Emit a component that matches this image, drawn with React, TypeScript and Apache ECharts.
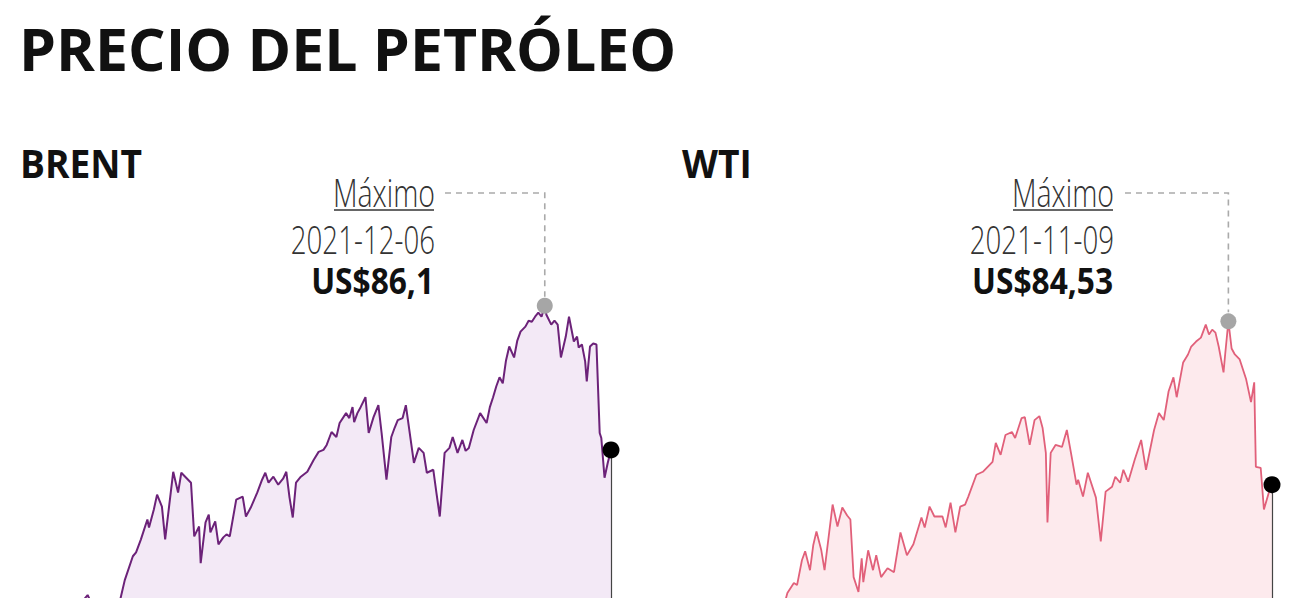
import React, { useEffect, useRef } from 'react';
import * as echarts from 'echarts';

// ---------- DATA ----------
const brentDates = [
  '2020-12-07','2020-12-11','2020-12-15','2020-12-18','2020-12-21','2020-12-28','2020-12-31',
  '2021-01-04','2021-01-06','2021-01-08','2021-01-13','2021-01-16','2021-01-18','2021-01-21','2021-01-24','2021-01-29',
  '2021-02-02','2021-02-05','2021-02-08','2021-02-13','2021-02-15','2021-02-18','2021-02-22','2021-02-23','2021-02-26','2021-02-28',
  '2021-03-03','2021-03-05','2021-03-10','2021-03-13','2021-03-15','2021-03-18','2021-03-21','2021-03-23','2021-03-26','2021-03-27','2021-03-30',
  '2021-04-01','2021-04-02','2021-04-05','2021-04-07','2021-04-10','2021-04-12','2021-04-14','2021-04-18','2021-04-22','2021-04-24','2021-04-27',
  '2021-05-01','2021-05-04','2021-05-06','2021-05-08','2021-05-11','2021-05-14','2021-05-17','2021-05-19','2021-05-21','2021-05-23','2021-05-25','2021-05-28',
  '2021-06-01','2021-06-05','2021-06-08','2021-06-11','2021-06-13','2021-06-16','2021-06-19','2021-06-21','2021-06-25','2021-06-27','2021-06-29','2021-06-30',
  '2021-07-02','2021-07-04','2021-07-07','2021-07-09','2021-07-12','2021-07-15','2021-07-17','2021-07-20','2021-07-23','2021-07-25','2021-07-27','2021-07-30',
  '2021-08-01','2021-08-04','2021-08-06','2021-08-09','2021-08-12','2021-08-14','2021-08-18','2021-08-20','2021-08-22','2021-08-25','2021-08-28','2021-08-30',
  '2021-09-02','2021-09-05','2021-09-07','2021-09-09','2021-09-12','2021-09-16','2021-09-20','2021-09-22','2021-09-24','2021-09-26','2021-09-28','2021-09-30',
  '2021-10-02','2021-10-04','2021-10-07','2021-10-09','2021-10-11','2021-10-14','2021-10-16','2021-10-18','2021-10-20','2021-10-22','2021-10-24','2021-10-26','2021-10-27','2021-10-30',
  '2021-11-01','2021-11-03','2021-11-05','2021-11-08','2021-11-10','2021-11-13','2021-11-15','2021-11-16','2021-11-18','2021-11-20','2021-11-21','2021-11-23','2021-11-25','2021-11-27','2021-11-29','2021-11-30',
  '2021-12-02','2021-12-04','2021-12-06'
];
const brentValues = [
  48.8, 50.0, 50.8, 52.3, 50.9, 51.0, 51.8,
  51.1, 54.3, 55.4, 56.4, 57.0, 56.3, 56.5, 56.2, 56.4,
  56.3, 56.4, 58.5, 60.9, 61.3, 62.6, 64.6, 63.8, 65.6, 67.1,
  65.9, 62.6, 69.4, 67.3, 69.3, 68.8, 68.3, 62.9, 63.9, 60.2, 64.3,
  65.1, 63.3, 64.4, 62.1, 62.8, 63.1, 62.9, 66.6, 66.9, 64.9, 65.8,
  67.3, 68.6, 69.3, 68.3, 68.9, 68.1, 68.7, 69.4, 66.8, 64.8, 68.3, 68.9,
  69.4, 70.6, 71.4, 71.6, 72.1, 73.4, 72.9, 74.3, 75.3, 74.8, 75.9, 74.4,
  75.3, 75.9, 76.9, 73.3, 74.9, 76.1, 73.3, 68.6, 72.9, 73.8, 74.6, 74.8,
  76.1, 72.6, 70.3, 71.8, 71.3, 69.3, 69.6, 67.2, 64.9, 71.3, 71.8, 72.9,
  71.3, 72.6, 71.5, 71.8, 73.6, 75.3, 74.3, 75.9, 76.9, 78.0, 78.9, 78.3,
  80.6, 82.0, 80.9, 82.6, 83.5, 84.0, 84.6, 84.5, 85.0, 85.4, 85.0, 86.1, 85.2, 84.2,
  84.6, 84.2, 80.9, 83.0, 85.0, 82.5, 83.0, 81.9, 82.2, 80.5, 78.5, 82.0, 82.3, 82.2, 73.3, 72.8,
  68.8, 70.3, 71.6
];

const wtiDates = [
  '2020-12-07','2020-12-11','2020-12-15','2020-12-18','2020-12-21','2020-12-28','2020-12-31',
  '2021-01-04','2021-01-06','2021-01-08','2021-01-13','2021-01-18','2021-01-21','2021-01-26','2021-01-29',
  '2021-02-02','2021-02-05','2021-02-07','2021-02-09','2021-02-13','2021-02-15','2021-02-18','2021-02-20','2021-02-23','2021-02-25','2021-02-27',
  '2021-03-02','2021-03-04','2021-03-09','2021-03-12','2021-03-15','2021-03-18','2021-03-20','2021-03-22','2021-03-25','2021-03-27','2021-03-28','2021-03-31',
  '2021-04-03','2021-04-05','2021-04-08','2021-04-12','2021-04-16','2021-04-20','2021-04-24','2021-04-28',
  '2021-05-03','2021-05-05','2021-05-08','2021-05-11','2021-05-16','2021-05-18','2021-05-21','2021-05-24','2021-05-27','2021-05-30',
  '2021-06-01','2021-06-06','2021-06-10','2021-06-13','2021-06-16','2021-06-18','2021-06-21','2021-06-24','2021-06-28','2021-06-30',
  '2021-07-04','2021-07-06','2021-07-09','2021-07-12','2021-07-15','2021-07-17','2021-07-19','2021-07-20','2021-07-22','2021-07-25','2021-07-29',
  '2021-08-01','2021-08-04','2021-08-07','2021-08-08','2021-08-11','2021-08-14','2021-08-19','2021-08-22','2021-08-25','2021-08-29','2021-08-31',
  '2021-09-03','2021-09-05','2021-09-08','2021-09-12','2021-09-16','2021-09-19','2021-09-24','2021-09-27','2021-09-30',
  '2021-10-03','2021-10-06','2021-10-08','2021-10-12','2021-10-15','2021-10-17','2021-10-20','2021-10-23','2021-10-26','2021-10-28','2021-10-30',
  '2021-11-01','2021-11-03','2021-11-06','2021-11-07','2021-11-09','2021-11-11','2021-11-13','2021-11-16','2021-11-20','2021-11-23','2021-11-25','2021-11-26','2021-11-29',
  '2021-12-01','2021-12-04','2021-12-06'
];
const wtiValues = [
  45.8, 46.6, 47.6, 49.1, 47.7, 47.6, 48.5,
  47.6, 50.6, 52.2, 52.9, 52.4, 53.1, 52.6, 52.2,
  54.8, 55.2, 56.0, 57.2, 58.2, 58.0, 60.5, 61.4, 59.5, 62.0, 63.4,
  61.5, 59.5, 66.1, 63.9, 65.8, 65.0, 64.6, 58.8, 57.3, 60.7, 58.3, 61.5,
  59.5, 61.0, 58.8, 59.7, 59.3, 63.3, 61.0, 62.1,
  64.8, 63.8, 65.9, 64.9, 64.9, 63.8, 66.3, 63.3, 65.9, 66.1,
  66.9, 69.1, 69.4, 69.9, 70.4, 72.3, 71.1, 73.1, 73.4, 72.8,
  74.8, 74.9, 72.1, 74.6, 75.0, 73.8, 71.3, 64.3, 71.3, 72.1, 71.9,
  73.6, 70.9, 68.1, 68.6, 66.9, 69.3, 66.8, 62.4, 67.4, 67.9, 68.9,
  68.3, 69.6, 68.4, 70.6, 72.6, 69.6, 73.6, 75.3, 74.6,
  77.5, 78.9, 76.9, 80.4, 81.2, 82.0, 82.5, 82.9, 84.2, 83.2, 83.7,
  83.4, 82.0, 79.4, 81.2, 84.53, 81.8, 81.2, 80.7, 78.7, 76.4, 78.4, 69.9, 69.8,
  65.6, 67.3, 68.1
];

const titleText = 'PRECIO DEL PETRÓLEO';
const panelNames = ['BRENT', 'WTI'];
const maxCaption = 'Máximo';
const brentMaxDateLabel = '2021-12-06';
const brentMaxValueLabel = 'US$86,1';
const wtiMaxDateLabel = '2021-11-09';
const wtiMaxValueLabel = 'US$84,53';
const brentLastDateLabel = '2021-12-06';

const xStart = '2020-12-07';
const xEnd = '2021-12-06';
const yMin = 40;
const yMax = 90;

// ---------- HELPERS ----------
const toTs = (s: string) => new Date(s + 'T00:00:00').getTime();
const pairs = (d: string[], v: number[]) => d.map((x, i) => [toTs(x), v[i]]);
const maxIdx = (v: number[]) => v.reduce((b, x, i) => (x > v[b] ? i : b), 0);

const LIGHT = '300 39px "Open Sans"';
const BOLD_VAL = 'bold 36px "Open Sans"';

function txt(text: string, x: number, y: number, font: string, sx: number, align: string, fill = '#222') {
  const el: any = {
    type: 'text', x, y, silent: true,
    style: { text, x: 0, y: 0, font, fill, textAlign: align, textVerticalAlign: 'middle' },
  };
  if (sx !== 1) el.scaleX = sx;
  return el;
}

export default function App() {
  const ref = useRef<HTMLDivElement>(null);

  useEffect(() => {
    if (!ref.current) return;
    const chart = echarts.init(ref.current, undefined, { renderer: 'svg' });

    const panels = [
      { dates: brentDates, values: brentValues, line: '#6c2279', fill: '#f3e9f6' },
      { dates: wtiDates, values: wtiValues, line: '#e1607a', fill: '#fdeaed' },
    ];

    const series: any[] = [];
    panels.forEach((p, gi) => {
      const data = pairs(p.dates, p.values);
      const mi = maxIdx(p.values);
      const last = data[data.length - 1];
      series.push({
        type: 'line', xAxisIndex: gi, yAxisIndex: gi, data, symbol: 'none', z: 2,
        lineStyle: { color: p.line, width: gi === 0 ? 2 : 1.8 },
        areaStyle: { color: p.fill, origin: 'start', opacity: 1 },
        markLine: {
          silent: true, symbol: ['none', 'none'], label: { show: false },
          lineStyle: { color: '#444', width: 1.2, type: 'solid' },
          data: [[{ coord: [last[0], last[1]] }, { coord: [last[0], yMin] }]],
        },
      });
      series.push({
        type: 'scatter', xAxisIndex: gi, yAxisIndex: gi, z: 5, symbolSize: 16,
        itemStyle: { color: '#a6a6a6', opacity: 1 }, data: [data[mi]],
      });
      series.push({
        type: 'scatter', xAxisIndex: gi, yAxisIndex: gi, z: 5, symbolSize: 17,
        itemStyle: { color: '#000', opacity: 1 }, data: [last],
      });
    });

    chart.setOption({
      animation: false,
      grid: [
        { left: 15, top: 259, width: 588, height: 497 },
        { left: 676, top: 259, width: 588, height: 497 },
      ],
      xAxis: [0, 1].map((gi) => ({ type: 'time', gridIndex: gi, min: toTs(xStart), max: toTs(xEnd), show: false })),
      yAxis: [0, 1].map((gi) => ({ type: 'value', gridIndex: gi, min: yMin, max: yMax, show: false })),
      series,
    });

    const peakPx = panels.map((p, gi) => {
      const mi = maxIdx(p.values);
      return chart.convertToPixel({ gridIndex: gi } as any, [toTs(p.dates[mi]), p.values[mi]]) as number[];
    });

    const leader = (x0: number, pk: number[]) => ({
      type: 'polyline', silent: true,
      shape: { points: [[x0, 185], [pk[0], 185], [pk[0], pk[1] - 9]] },
      style: { stroke: '#aaaaaa', lineWidth: 1.6, lineDash: [6, 5], fill: null },
    });

    chart.setOption({
      graphic: [
        txt(titleText, 11, 40, 'bold 59px "Open Sans"', 1, 'left', '#111'),
        txt(panelNames[0], 12, 154.5, 'bold 40px "Open Sans"', 0.93, 'left', '#111'),
        txt(panelNames[1], 674, 154.5, 'bold 40px "Open Sans"', 0.93, 'left', '#111'),
        // Brent annotation
        txt(maxCaption, 427, 184, LIGHT, 0.73, 'right', '#333'),
        { type: 'line', silent: true, shape: { x1: 326, y1: 202, x2: 426, y2: 202 }, style: { stroke: '#333', lineWidth: 1.6 } },
        txt(brentMaxDateLabel, 427, 231, LIGHT, 0.71, 'right', '#333'),
        txt(brentMaxValueLabel, 426, 272, BOLD_VAL, 0.88, 'right', '#111'),
        leader(437, peakPx[0]),
        // WTI annotation
        txt(maxCaption, 1106, 184, LIGHT, 0.73, 'right', '#333'),
        { type: 'line', silent: true, shape: { x1: 1005, y1: 202, x2: 1105, y2: 202 }, style: { stroke: '#333', lineWidth: 1.6 } },
        txt(wtiMaxDateLabel, 1106, 231, LIGHT, 0.71, 'right', '#333'),
        txt(wtiMaxValueLabel, 1105, 272, BOLD_VAL, 0.88, 'right', '#111'),
        leader(1117, peakPx[1]),
        // last-date label (cut off at bottom, as in the reference)
        txt(brentLastDateLabel, 577, 597, LIGHT, 0.71, 'right', '#333'),
      ],
    });

    return () => chart.dispose();
  }, []);

  return (
    <div style={{ width: 1290, height: 598, overflow: 'hidden', marginBottom: -8, background: '#fff' }}>
      <div ref={ref} style={{ width: 1290, height: 760 }} />
    </div>
  );
}
